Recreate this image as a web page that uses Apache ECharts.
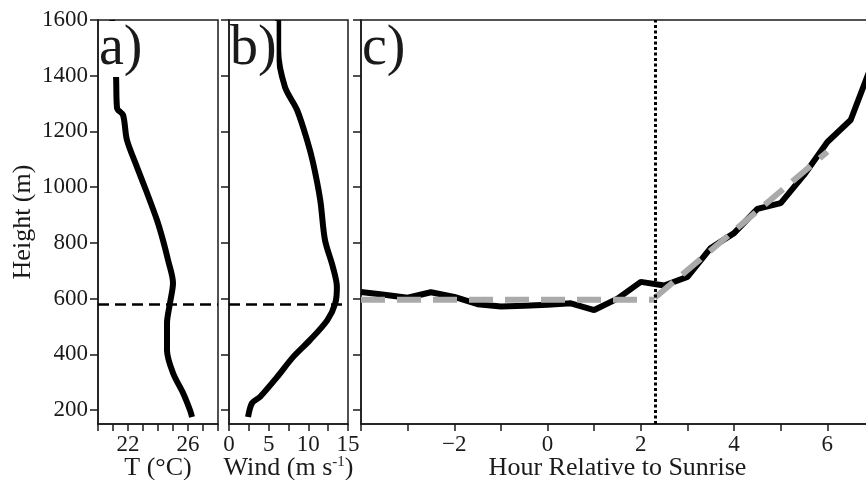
<!DOCTYPE html>
<html>
<head>
<meta charset="utf-8">
<script src="https://cdn.jsdelivr.net/npm/echarts@6/dist/echarts.min.js"></script>
<style>
  html, body { margin: 0; padding: 0; background: #fff; }
  #main { width: 866px; height: 480px; }
</style>
</head>
<body>
<div id="main"></div>
<script>
// shared height axis
const heightTicks = [200, 400, 600, 800, 1000, 1200, 1400, 1600]

// a) temperature profile
const tempHeight = [1600, 1403, 1284, 1259, 1169, 1072, 979, 882, 810, 738, 656, 584, 512, 415, 333, 261, 200, 175]
const tempC = [20.93, 21.2, 21.27, 21.67, 21.93, 22.6, 23.27, 23.93, 24.33, 24.67, 25.0, 24.8, 24.6, 24.6, 25.0, 25.67, 26.13, 26.27]

// b) wind profile
const windHeight = [1600, 1492, 1359, 1277, 1169, 1087, 954, 810, 713, 642, 584, 523, 451, 390, 318, 247, 225, 175]
const windSpeed = [6.2, 6.2, 7.06, 8.58, 9.84, 10.6, 11.5, 12.1, 13.1, 13.6, 13.4, 12.4, 10.2, 8.07, 6.05, 3.9, 2.9, 2.4]

// c) boundary layer height vs hour
const hours = [-4, -3.5, -3, -2.5, -2, -1.5, -1, -0.5, 0, 0.5, 1, 1.5, 2, 2.5, 3, 3.5, 4, 4.5, 5, 5.5, 6, 6.5, 7]
const blHeight = [624, 614, 603, 623, 606, 580, 572, 574, 578, 583, 559, 600, 660, 647, 678, 782, 835, 922, 943, 1044, 1162, 1241, 1460]
const fitFlatHours = [-4, 2.3]
const fitFlatHeight = [596, 596]
const fitRiseHours = [2.3, 6]
const fitRiseHeight = [603, 1127]

const mixHeight = 580
const sunriseOffset = 2.3

const pairs = (xs, ys) => xs.map((x, i) => [x, ys[i]])

const serif = 'Liberation Serif'
const ink = '#1a1a1a'
const nameSize = 26

const chart = echarts.init(document.getElementById('main'))

const yBase = {
  type: 'value',
  min: 150,
  max: 1600,
  axisLine: { show: true, onZero: false, lineStyle: { color: ink, width: 1.5 } },
  axisTick: { show: true, inside: false, length: 8, customValues: heightTicks, lineStyle: { color: ink, width: 1.5 } },
  splitLine: { show: false }
}

const xBase = {
  type: 'value',
  nameLocation: 'middle',
  nameMoveOverlap: false,
  axisLine: { show: true, onZero: false, lineStyle: { color: ink, width: 1.5 } },
  axisTick: { show: true, length: 7, lineStyle: { color: ink, width: 1.5 } },
  splitLine: { show: false },
  nameTextStyle: { fontFamily: serif, fontSize: nameSize, color: ink }
}

const labelStyle = { fontFamily: serif, fontSize: 23, color: ink, margin: 9 }

const gridBase = { top: 20, height: 404, show: true, borderColor: ink, borderWidth: 1.5, outerBoundsMode: 'none', containLabel: false }

const option = {
  backgroundColor: '#fff',
  animation: false,
  title: [
    { text: 'a)', left: 99, top: 21 },
    { text: 'b)', left: 230, top: 21 },
    { text: 'c)', left: 362, top: 21 }
  ].map(t => Object.assign(t, {
    padding: 0,
    backgroundColor: '#fff',
    textStyle: { fontFamily: serif, fontSize: 56, fontWeight: 'normal', color: ink }
  })),
  grid: [
    Object.assign({ left: 98, width: 120 }, gridBase),
    Object.assign({ left: 229, width: 119 }, gridBase),
    Object.assign({ left: 361, width: 513 }, gridBase)
  ],
  xAxis: [
    Object.assign({}, xBase, {
      gridIndex: 0, min: 20, max: 28, interval: 1,
      name: 'T (°C)', nameGap: 31,
      axisLabel: Object.assign({}, labelStyle, { customValues: [22, 26] })
    }),
    Object.assign({}, xBase, {
      gridIndex: 1, min: 0, max: 15, interval: 2.5,
      name: '{n|Wind (m s}{s|-1}{n|)}', nameGap: 31,
      nameTextStyle: {
        rich: {
          n: { fontFamily: serif, fontSize: nameSize, color: ink },
          s: { fontFamily: serif, fontSize: 15, color: ink, verticalAlign: 'top', padding: [0, 0, 12, 0] }
        }
      },
      axisLabel: Object.assign({}, labelStyle, { customValues: [0, 5, 10, 15] })
    }),
    Object.assign({}, xBase, {
      gridIndex: 2, min: -4, max: 7, interval: 1,
      name: 'Hour Relative to Sunrise', nameGap: 31,
      axisLabel: Object.assign({}, labelStyle, {
        customValues: [-2, 0, 2, 4, 6],
        formatter: v => String(v).replace('-', '\u2212')
      })
    })
  ],
  yAxis: [
    Object.assign({}, yBase, {
      gridIndex: 0,
      name: 'Height (m)', nameLocation: 'middle', nameGap: 62,
      nameTextStyle: { fontFamily: serif, fontSize: nameSize, color: ink },
      axisLabel: Object.assign({}, labelStyle, { customValues: heightTicks, margin: 10, formatter: v => String(v) })
    }),
    Object.assign({}, yBase, { gridIndex: 1, axisLabel: { show: false } }),
    Object.assign({}, yBase, { gridIndex: 2, axisLabel: { show: false } })
  ],
  series: [
    {
      name: 'Temperature',
      type: 'line',
      xAxisIndex: 0, yAxisIndex: 0,
      data: pairs(tempC, tempHeight),
      smooth: 0.3,
      symbol: 'none',
      lineStyle: { color: '#000', width: 6 },
      markLine: {
        silent: true, symbol: 'none', label: { show: false },
        lineStyle: { color: '#000', width: 2.5, type: [11, 6] },
        data: [{ yAxis: mixHeight }]
      }
    },
    {
      name: 'Wind',
      type: 'line',
      xAxisIndex: 1, yAxisIndex: 1,
      data: pairs(windSpeed, windHeight),
      smooth: 0.3,
      symbol: 'none',
      lineStyle: { color: '#000', width: 6 },
      markLine: {
        silent: true, symbol: 'none', label: { show: false },
        lineStyle: { color: '#000', width: 2.5, type: [11, 6] },
        data: [{ yAxis: mixHeight }]
      }
    },
    {
      name: 'Fit flat',
      type: 'line',
      xAxisIndex: 2, yAxisIndex: 2,
      data: pairs(fitFlatHours, fitFlatHeight),
      symbol: 'none',
      z: 3,
      lineStyle: { color: '#aaaaaa', width: 6, type: [24, 12] }
    },
    {
      name: 'Observed',
      type: 'line',
      xAxisIndex: 2, yAxisIndex: 2,
      data: pairs(hours, blHeight),
      symbol: 'none',
      z: 2,
      lineStyle: { color: '#000', width: 6 },
      markLine: {
        silent: true, symbol: 'none', label: { show: false },
        lineStyle: { color: '#000', width: 3, type: [3, 2.5] },
        data: [{ xAxis: sunriseOffset }]
      }
    },
    {
      name: 'Fit rise',
      type: 'line',
      xAxisIndex: 2, yAxisIndex: 2,
      data: pairs(fitRiseHours, fitRiseHeight),
      symbol: 'none',
      z: 3,
      lineStyle: { color: '#aaaaaa', width: 6, type: [24, 12] }
    }
  ]
}

chart.setOption(option)
</script>
</body>
</html>
